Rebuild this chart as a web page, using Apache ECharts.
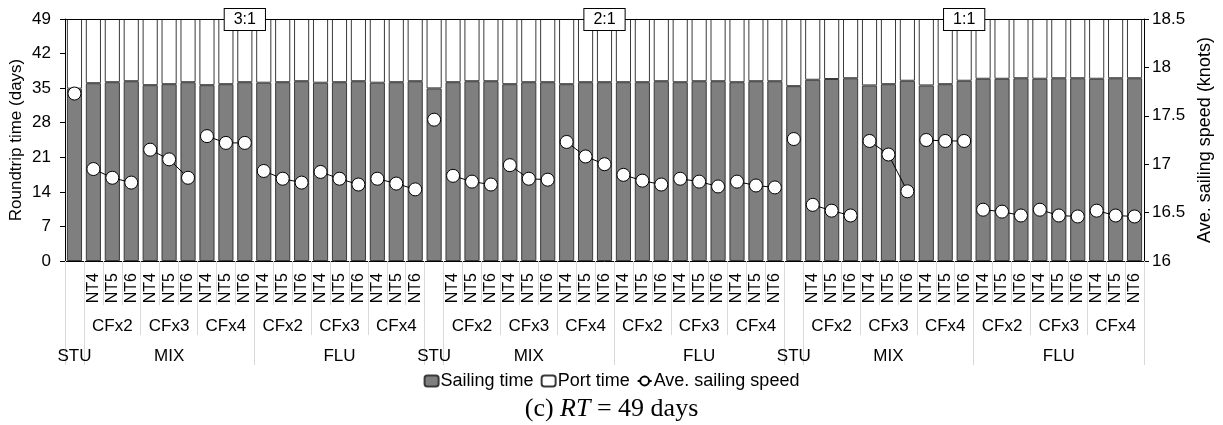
<!DOCTYPE html>
<html>
<head>
<meta charset="utf-8">
<script src="https://cdn.jsdelivr.net/npm/echarts@6/dist/echarts.min.js"></script>
<style>
html,body{margin:0;padding:0;background:#fff;}
#chart{width:1223px;height:425px;}
</style>
</head>
<body>
<div id="chart"></div>
<script>
// ---- categories ----
const ratios = ['3:1', '2:1', '1:1'];
const uplifts = ['STU', 'MIX', 'FLU'];
const cfLevels = ['CFx2', 'CFx3', 'CFx4'];
const ntLevels = ['NT4', 'NT5', 'NT6'];

// ---- values (order per ratio: STU, MIX CFx2 NT4..6, CFx3.., CFx4.., FLU CFx2.., CFx3.., CFx4..) ----
const sailing31 = [34.9, 36.0, 36.2, 36.4, 35.6, 35.8, 36.2, 35.6, 35.8, 36.2, 36.1, 36.2, 36.4, 36.1, 36.2, 36.4, 36.1, 36.2, 36.4];
const sailing21 = [34.95, 36.2, 36.4, 36.4, 35.8, 36.2, 36.2, 35.8, 36.2, 36.2, 36.2, 36.2, 36.4, 36.2, 36.4, 36.4, 36.2, 36.4, 36.4];
const sailing11 = [35.4, 36.7, 36.85, 37.0, 35.55, 35.8, 36.5, 35.55, 35.8, 36.5, 36.9, 36.9, 37.0, 36.9, 37.0, 37.0, 36.9, 37.0, 37.0];

const port31 = [14.1, 13.0, 12.8, 12.6, 13.4, 13.2, 12.8, 13.4, 13.2, 12.8, 12.9, 12.8, 12.6, 12.9, 12.8, 12.6, 12.9, 12.8, 12.6];
const port21 = [14.05, 12.8, 12.6, 12.6, 13.2, 12.8, 12.8, 13.2, 12.8, 12.8, 12.8, 12.8, 12.6, 12.8, 12.6, 12.6, 12.8, 12.6, 12.6];
const port11 = [13.6, 12.3, 12.15, 12.0, 13.45, 13.2, 12.5, 13.45, 13.2, 12.5, 12.1, 12.1, 12.0, 12.1, 12.0, 12.0, 12.1, 12.0, 12.0];

const speed31 = [17.73, 16.95, 16.86, 16.81, 17.15, 17.05, 16.86, 17.29, 17.22, 17.22, 16.93, 16.85, 16.81, 16.92, 16.85, 16.79, 16.85, 16.80, 16.74];
const speed21 = [17.46, 16.88, 16.82, 16.79, 16.99, 16.85, 16.84, 17.23, 17.08, 17.00, 16.89, 16.83, 16.79, 16.85, 16.82, 16.77, 16.82, 16.78, 16.76];
const speed11 = [17.26, 16.58, 16.52, 16.47, 17.24, 17.10, 16.72, 17.25, 17.24, 17.24, 16.53, 16.51, 16.47, 16.53, 16.47, 16.46, 16.52, 16.47, 16.46];

// left / right axis ticks
const leftTicks = { min: 0, max: 49, interval: 7 };
const rightTicks = { min: 16, max: 18.5, interval: 0.5 };

// ---- build category rows ----
const ntRow = [], cfRow = [], upRow = [], ratioRow = [];
ratios.forEach(function (r) {
  const start = ntRow.length;
  ntRow.push(''); cfRow.push(''); upRow.push(uplifts[0]);
  uplifts.slice(1).forEach(function (u) {
    cfLevels.forEach(function (cf) {
      ntLevels.forEach(function (nt, k) {
        ntRow.push(nt);
        cfRow.push(k === 1 ? cf : '');
        upRow.push('');
      });
    });
  });
  // centre outer labels within their 9-category spans
  upRow[start + 1 + 4] = uplifts[1];
  upRow[start + 10 + 4] = uplifts[2];
  for (let i = 0; i < 19; i++) ratioRow.push(i === 9 ? r : '');
});

const sailing = sailing31.concat(sailing21, sailing11);
const port = port31.concat(port21, port11);
const speed = speed31.concat(speed21, speed11);
const N = ntRow.length;

const FONT = 'Liberation Sans, Arial, sans-serif';
const SERIF = 'Liberation Serif, Times New Roman, serif';
const tickGray = '#d9d9d9';

// speed line series: one per NT triple, plus isolated STU points
const speedSeries = [];
const lineBase = {
  name: 'Ave. sailing speed', type: 'line', yAxisIndex: 1, xAxisIndex: 0,
  symbol: 'circle', symbolSize: 13, showSymbol: true, connectNulls: false,
  lineStyle: { color: '#000', width: 1 },
  itemStyle: { color: '#fff', borderColor: '#000', borderWidth: 1 },
  z: 5, silent: true
};
const stuData = new Array(N).fill(null);
for (let g = 0; g < 3; g++) stuData[g * 19] = speed[g * 19];
speedSeries.push(Object.assign({}, lineBase, { data: stuData }));
for (let g = 0; g < 3; g++) {
  const base = g * 19;
  for (let t = 0; t < 6; t++) {
    const s = base + 1 + t * 3;
    const d = new Array(N).fill(null);
    for (let k = 0; k < 3; k++) d[s + k] = speed[s + k];
    speedSeries.push(Object.assign({}, lineBase, { data: d }));
  }
}

const chart = echarts.init(document.getElementById('chart'), null, { renderer: 'canvas' });

chart.setOption({
  animation: false,
  backgroundColor: '#fff',
  textStyle: { fontFamily: FONT },
  title: {
    text: '(c) {i|RT} = 49 days',
    left: 'center', top: 391,
    textStyle: {
      fontFamily: SERIF, fontSize: 26, fontWeight: 'normal', color: '#000',
      rich: { i: { fontFamily: SERIF, fontSize: 26, fontStyle: 'italic', color: '#000' } }
    }
  },
  legend: {
    data: ['Sailing time', 'Port time', 'Ave. sailing speed'],
    top: 367, left: 'center',
    itemWidth: 14, itemHeight: 11, itemGap: 7,
    textStyle: { fontFamily: FONT, fontSize: 18, color: '#000', padding: [0, 0, 0, -3] }
  },
  grid: { left: 65, right: 79, top: 19, bottom: 164, containLabel: false, outerBoundsMode: 'none' },
  xAxis: [
    {
      type: 'category', data: ntRow, position: 'bottom',
      axisLine: { show: true, lineStyle: { color: '#000', width: 1 } },
      axisTick: { show: true, interval: 0, length: 44, lineStyle: { color: tickGray, width: 1 } },
      axisLabel: { interval: 0, rotate: 90, margin: 12, fontFamily: FONT, fontSize: 16, color: '#000' },
      z: 1
    },
    {
      type: 'category', data: cfRow, position: 'bottom',
      axisLine: { show: false },
      axisTick: {
        show: true, length: 74, lineStyle: { color: tickGray, width: 1 },
        interval: function (i) { const m = i % 19; return m >= 1 && (m - 1) % 3 === 0; }
      },
      axisLabel: { interval: 0, margin: 57, fontFamily: FONT, fontSize: 17, color: '#000' }
    },
    {
      type: 'category', data: upRow, position: 'bottom',
      axisLine: { show: false },
      axisTick: {
        show: true, length: 104, lineStyle: { color: tickGray, width: 1 },
        interval: function (i) { const m = i % 19; return m === 0 || m === 1 || m === 10; }
      },
      axisLabel: { interval: 0, margin: 87, fontFamily: FONT, fontSize: 17, color: '#000' }
    },
    {
      type: 'category', data: ratioRow, position: 'top',
      axisLine: { show: true, lineStyle: { color: '#000', width: 1 } },
      axisTick: { show: false },
      axisLabel: {
        interval: 0, margin: -11,
        formatter: function (v) { return v ? '{b|' + v + '}' : ''; },
        rich: {
          b: {
            fontFamily: FONT, fontSize: 16, color: '#000',
            backgroundColor: '#fff', borderColor: '#000', borderWidth: 1, padding: [3, 9, 2, 9]
          }
        }
      },
      z: 10
    }
  ],
  yAxis: [
    {
      type: 'value', min: leftTicks.min, max: leftTicks.max, interval: leftTicks.interval,
      name: 'Roundtrip time (days)', nameLocation: 'middle', nameGap: 40, nameRotate: 90,
      nameMoveOverlap: false,
      nameTextStyle: { fontFamily: FONT, fontSize: 17, color: '#000' },
      axisLine: { show: true, lineStyle: { color: '#000' } },
      axisTick: { show: true, length: 5, lineStyle: { color: '#000' } },
      axisLabel: { fontFamily: FONT, fontSize: 17, color: '#000', margin: 14 },
      splitLine: { show: false }
    },
    {
      type: 'value', position: 'right', min: rightTicks.min, max: rightTicks.max, interval: rightTicks.interval,
      name: 'Ave. sailing speed (knots)', nameLocation: 'middle', nameGap: 50, nameRotate: 90,
      nameTextStyle: { fontFamily: FONT, fontSize: 18, color: '#000' },
      axisLine: { show: true, lineStyle: { color: '#000' } },
      axisTick: { show: true, length: 5, lineStyle: { color: '#000' } },
      axisLabel: { fontFamily: FONT, fontSize: 17, color: '#000', margin: 8 },
      splitLine: { show: false }
    }
  ],
  series: [
    {
      name: 'Sailing time', type: 'bar', stack: 'rt', xAxisIndex: 0, yAxisIndex: 0,
      data: sailing, barCategoryGap: '20%',
      itemStyle: { color: '#7f7f7f', borderColor: '#3a3a3a', borderWidth: 1 },
      silent: true
    },
    {
      name: 'Port time', type: 'bar', stack: 'rt', xAxisIndex: 0, yAxisIndex: 0,
      data: port, barCategoryGap: '20%',
      itemStyle: { color: '#ffffff', borderColor: '#3a3a3a', borderWidth: 1 },
      silent: true
    }
  ].concat(speedSeries)
});
</script>
</body>
</html>
